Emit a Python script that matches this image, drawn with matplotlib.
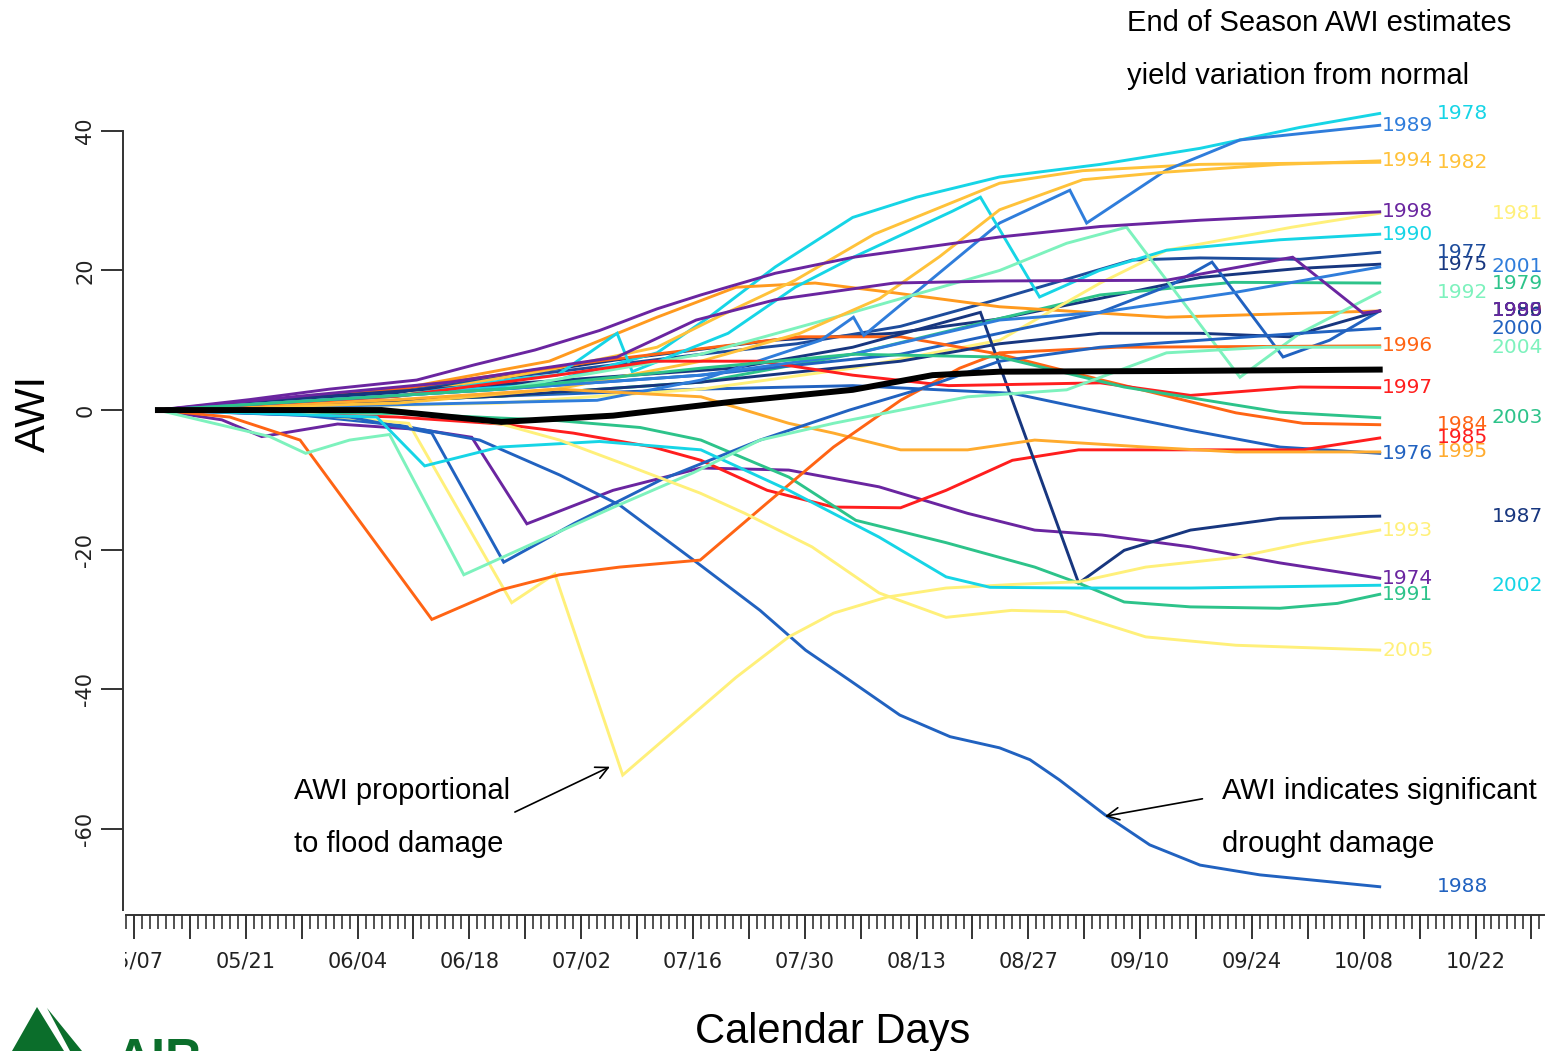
import matplotlib.pyplot as plt
from matplotlib.patches import Polygon
from matplotlib.transforms import Bbox, TransformedBbox

# x values are calendar days counted from 05/07, y values are accumulated AWI
tick_labels = ['05/07', '05/21', '06/04', '06/18', '07/02', '07/16', '07/30',
               '08/13', '08/27', '09/10', '09/24', '10/08', '10/22']
y_ticks = [-60, -40, -20, 0, 20, 40]

days_1974 = [3, 11, 16, 25.5, 36, 42.3, 49.2, 60, 71, 82, 93.3, 104.4, 112.8, 121.2, 132.3, 143.5, 156]
awi_1974 = [0, -1.4, -3.8, -2, -2.8, -3.9, -16.3, -11.5, -8.3, -8.6, -11, -14.8, -17.2, -17.9, -19.6, -21.9, -24.1]
days_1975 = [3, 33, 60.5, 80, 95, 108, 121, 133.5, 146, 156]
awi_1975 = [0, 2.5, 7.2, 10, 11, 13, 16, 19, 20.3, 20.9]
days_1976 = [3, 46, 71, 90, 110, 118.3, 132.3, 143.5, 156]
awi_1976 = [0, 2, 3, 3.5, 2.4, 0.4, -2.9, -5.3, -6.2]
days_1977 = [3, 33, 53, 71, 83, 96, 108, 125, 133.5, 146, 156]
awi_1977 = [0, 3, 5.5, 8, 9.5, 12, 15.8, 21.5, 21.8, 21.6, 22.6]
days_1978 = [3, 33, 52, 65.5, 72, 80.3, 90, 98, 108.4, 121, 133.5, 146, 156]
awi_1978 = [0, 2, 4, 8.2, 13.3, 20.5, 27.6, 30.5, 33.4, 35.2, 37.5, 40.5, 42.5]
days_1979 = [3, 46, 71, 90, 108, 121, 137.6, 156]
awi_1979 = [0, 2, 4, 8, 13, 16.5, 18.3, 18.2]
days_1980 = [3, 33, 52, 65.5, 75.4, 85.3, 95.2, 108.4, 129.3, 156]
awi_1980 = [0, 3, 7, 13.3, 17.6, 18.2, 16.8, 14.8, 13.3, 14.2]
days_1981 = [3, 46, 71, 90, 108.4, 121, 129.3, 145, 156]
awi_1981 = [0, 1, 3, 6, 10, 18.2, 22.9, 26.2, 28.2]
days_1982 = [3, 33, 53, 65.5, 73.4, 82.8, 92.7, 108.4, 118.8, 133.5, 156]
awi_1982 = [0, 2, 6, 9, 13.5, 18.6, 25.2, 32.5, 34.3, 35.2, 35.5]
days_1983 = [3, 46, 71, 96, 108.4, 121, 130, 135, 143.9, 149.7, 156]
awi_1983 = [0, 3, 5, 8, 11, 14, 18, 21.2, 7.6, 10, 14.2]
days_1984 = [3, 33, 58, 83.4, 96, 108.4, 121.2, 138, 146.4, 156]
awi_1984 = [0, 3, 7, 10.5, 10.5, 8, 4.3, -0.4, -1.9, -2.1]
days_1985 = [3, 33, 46, 55, 65, 71, 79.3, 87.6, 96, 101.7, 110, 118.3, 133, 146.4, 156]
awi_1985 = [0, -1, -2, -3.3, -5.3, -7.2, -11.5, -13.9, -14, -11.5, -7.2, -5.7, -5.7, -5.7, -4.0]
days_1986 = [3, 46, 71, 96, 108.4, 121, 133.5, 144.7, 156]
awi_1986 = [0, 2, 4, 7, 9.5, 11, 11, 10.5, 14.2]
days_1987 = [3, 24, 50, 75, 90, 106, 118.3, 124, 132.3, 143.5, 156]
awi_1987 = [0, 2, 4, 6, 9, 14, -24.8, -20.1, -17.2, -15.5, -15.2]
days_1988 = [3, 20.8, 33.3, 43.3, 53.3, 60.8, 70.9, 78.4, 84.1, 89.6, 95.9, 102.2, 108.4, 112.2,
             115.9, 121.6, 127.2, 133.5, 141, 156]
awi_1988 = [0, -0.7, -2.2, -4.3, -9.3, -13.6, -22.2, -28.7, -34.4, -38.7, -43.7, -46.8, -48.4, -50.1,
            -53, -58, -62.3, -65.2, -66.6, -68.3]
days_1989 = [3, 58, 71, 86, 90.1, 91.4, 108.4, 117.2, 119.3, 129.3, 138.5, 156]
awi_1989 = [0, 1.4, 4.3, 10, 13.3, 10.7, 26.8, 31.5, 26.8, 34.4, 38.7, 40.8]
days_1990 = [3, 33, 48, 53, 60.5, 62.4, 74.4, 82.8, 90.1, 102.5, 106, 113.4, 120.9, 129.3, 143.5, 156]
awi_1990 = [0, 2, 4.5, 5, 11, 5.5, 11, 17.6, 21.9, 28.5, 30.5, 16.2, 20, 22.9, 24.4, 25.2]
days_1991 = [3, 33, 53, 63.4, 71, 82, 90.4, 101.7, 112.8, 118.3, 124, 132.3, 143.5, 150.7, 156]
awi_1991 = [0, -0.5, -1.5, -2.5, -4.3, -9.6, -15.8, -19, -22.5, -24.8, -27.5, -28.2, -28.4, -27.7, -26.4]
days_1992 = [3, 46, 71, 90, 108.4, 116.8, 124.3, 138.5, 146, 156]
awi_1992 = [0, 3, 8, 14, 20, 23.9, 26.2, 4.7, 11, 16.9]
days_1993 = [3, 20.8, 34.4, 47.3, 52.7, 61.2, 75.4, 82, 87.6, 94.3, 101.7, 109.9, 118.3, 126.7, 138, 146.4, 156]
awi_1993 = [0, -0.5, -1.9, -27.6, -23.5, -52.3, -38.3, -32.5, -29.1, -26.8, -25.5, -25, -24.6, -22.5, -21.1,
            -19.1, -17.2]
days_1994 = [3, 33, 53, 71, 83.4, 93.4, 100.9, 108.4, 118.8, 129.3, 143.5, 156]
awi_1994 = [0, 1, 3, 7, 11, 16, 22, 28.7, 33, 34.1, 35.2, 35.7]
days_1995 = [3, 33, 53, 71, 82, 87.6, 96, 104.4, 112.8, 118.3, 126.7, 138, 156]
awi_1995 = [0, 1.5, 3, 1.9, -1.9, -3.3, -5.7, -5.7, -4.3, -4.7, -5.3, -6, -6]
days_1996 = [3, 12, 20.8, 37.3, 45.8, 53.3, 60.8, 70.9, 79.3, 87.6, 96, 103.4, 108.4, 123.1, 156]
awi_1996 = [0, -1, -4.3, -30, -25.8, -23.6, -22.5, -21.5, -13.3, -5.3, 1.4, 6, 8.2, 9, 9.2]
days_1997 = [3, 33, 53, 65, 78.4, 90, 102, 121, 132.3, 146, 156]
awi_1997 = [0, 2, 5, 7, 7, 5, 3.5, 3.9, 2.1, 3.3, 3.2]
days_1998 = [3, 14.5, 24.5, 35.4, 42.7, 50.2, 58.3, 65.5, 71, 80.3, 90.1, 108.4, 121, 133.5, 146, 156]
awi_1998 = [0, 1.5, 3, 4.3, 6.5, 8.6, 11.4, 14.5, 16.5, 19.6, 21.9, 24.8, 26.3, 27.2, 27.9, 28.4]
days_1999 = [3, 20.8, 39.6, 60.5, 70.4, 80.3, 95.2, 108.4, 129.3, 145.1, 153.9, 156]
awi_1999 = [0, 2, 4, 7.6, 12.9, 15.8, 18.2, 18.5, 18.6, 21.9, 13.9, 14.2]
days_2000 = [3, 27, 37.3, 46.3, 55.2, 66, 78.4, 89.6, 98.4, 108.4, 121, 133.5, 146, 156]
awi_2000 = [0, -1, -3.3, -21.8, -16.2, -10, -4.3, 0, 3, 7, 9, 10, 11, 11.7]
days_2001 = [3, 46, 71, 90, 108.4, 121, 137.6, 156]
awi_2001 = [0, 3, 5, 8, 12.9, 14, 16.8, 20.5]
days_2002 = [3, 30.4, 36.4, 45.8, 58.3, 71, 82, 93.3, 101.7, 107.2, 118.3, 132.3, 156]
awi_2002 = [0, -1, -8, -5.3, -4.5, -5.7, -11.5, -18.2, -23.9, -25.4, -25.5, -25.5, -25.1]
days_2003 = [3, 46, 71, 90, 108.4, 124, 143.5, 156]
awi_2003 = [0, 3, 6, 8, 7.6, 3.3, -0.3, -1.1]
days_2004 = [3, 17, 21.5, 27, 32, 41.3, 50.2, 60.1, 70, 78.4, 87.6, 104.4, 116.8, 129.3, 141.9, 156]
awi_2004 = [0, -3.8, -6.2, -4.3, -3.5, -23.6, -19, -13.9, -9, -4.3, -1.9, 1.9, 2.9, 8.2, 9, 9.0]
days_2005 = [3, 33, 46, 53.3, 60.8, 70.9, 76.5, 84.9, 93.3, 101.7, 109.9, 116.7, 126.7, 138, 156]
awi_2005 = [0, 0, -2, -4.3, -7.5, -11.9, -14.8, -19.6, -26.2, -29.7, -28.7, -28.9, -32.5, -33.7, -34.4]

# normal season
days_mean = [3, 31, 46, 60, 75, 90, 100, 108.4, 130, 156]
awi_mean = [0, 0, -1.7, -0.8, 1.2, 2.9, 5.0, 5.5, 5.6, 5.8]

series = {
    1974: (days_1974, awi_1974), 1975: (days_1975, awi_1975), 1976: (days_1976, awi_1976),
    1977: (days_1977, awi_1977), 1978: (days_1978, awi_1978), 1979: (days_1979, awi_1979),
    1980: (days_1980, awi_1980), 1981: (days_1981, awi_1981), 1982: (days_1982, awi_1982),
    1983: (days_1983, awi_1983), 1984: (days_1984, awi_1984), 1985: (days_1985, awi_1985),
    1986: (days_1986, awi_1986), 1987: (days_1987, awi_1987), 1988: (days_1988, awi_1988),
    1989: (days_1989, awi_1989), 1990: (days_1990, awi_1990), 1991: (days_1991, awi_1991),
    1992: (days_1992, awi_1992), 1993: (days_1993, awi_1993), 1994: (days_1994, awi_1994),
    1995: (days_1995, awi_1995), 1996: (days_1996, awi_1996), 1997: (days_1997, awi_1997),
    1998: (days_1998, awi_1998), 1999: (days_1999, awi_1999), 2000: (days_2000, awi_2000),
    2001: (days_2001, awi_2001), 2002: (days_2002, awi_2002), 2003: (days_2003, awi_2003),
    2004: (days_2004, awi_2004), 2005: (days_2005, awi_2005),
}

purple = '#6a25a0'
navy = '#17367f'
darkblue = '#1d4c9c'
blue = '#2162c0'
midblue = '#2f7ddb'
cyan = '#16d5e6'
seagreen = '#2dc38a'
aqua = '#7df2bd'
lightyellow = '#fff07a'
gold = '#ffc23a'
orange = '#ff9a1e'
redorange = '#ff6414'
red = '#ff1e1e'

colors = {
    1974: purple, 1975: navy, 1976: blue, 1977: darkblue, 1978: cyan, 1979: seagreen,
    1980: orange, 1981: lightyellow, 1982: gold, 1983: blue, 1984: redorange, 1985: red,
    1986: navy, 1987: navy, 1988: blue, 1989: midblue, 1990: cyan, 1991: seagreen,
    1992: aqua, 1993: lightyellow, 1994: gold, 1995: '#ffab2e', 1996: redorange, 1997: red,
    1998: purple, 1999: purple, 2000: blue, 2001: midblue, 2002: cyan, 2003: seagreen,
    2004: aqua, 2005: lightyellow,
}

# which column the year label goes in at the right end of the lines
label_col = {
    1989: 0, 1994: 0, 1998: 0, 1990: 0, 1996: 0, 1997: 0, 1976: 0, 1993: 0, 1974: 0, 1991: 0, 2005: 0,
    1978: 1, 1982: 1, 1977: 1, 1975: 1, 1992: 1, 1984: 1, 1985: 1, 1995: 1, 1988: 1,
    1981: 2, 2001: 2, 1979: 2, 1980: 2, 1983: 2, 1986: 2, 1999: 2, 2000: 2, 2004: 2, 2003: 2,
    1987: 2, 2002: 2,
}
col_x = [156.3, 163.1, 170.0]

W, H = 1545, 1051
fig = plt.figure(figsize=(W / 100, H / 100), dpi=100)
ax = fig.add_axes([126 / W, (H - 915) / H, (W - 126) / W, (915 - 96) / H])
ax.set_xlim(-1.0, 176.7)
ax.set_ylim(-72.35, 45.0)

for yr, (d, v) in series.items():
    ax.plot(d, v, color=colors[yr], lw=2.1, solid_joinstyle='miter', zorder=2)
    ax.text(col_x[label_col[yr]], v[-1], str(yr), color=colors[yr], fontsize=14.5,
            ha='left', va='center', family='DejaVu Sans', clip_on=False)

ax.plot(days_mean, awi_mean, color='black', lw=4.3, zorder=3)

# axes styled like base R
for s in ['top', 'right']:
    ax.spines[s].set_visible(False)
ax.spines['left'].set_position(('outward', 2))
ax.spines['left'].set_bounds(-71.6, 40)
for s in ['left', 'bottom']:
    ax.spines[s].set_linewidth(1.4)
    ax.spines[s].set_color('#333333')

major_days = list(range(0, 177, 7))
ax.set_xticks(major_days)
ax.set_xticklabels([tick_labels[i // 2] if i % 2 == 0 else '' for i in range(len(major_days))])
ax.set_xticks([d for d in range(-1, 177) if d % 7 != 0], minor=True)
ax.tick_params(axis='x', which='major', length=17, width=1.4, color='#333333', pad=9,
               labelsize=15, labelcolor='#222222')
ax.tick_params(axis='x', which='minor', length=10, width=1.2, color='#333333')

ax.set_yticks(y_ticks)
ax.set_yticklabels([str(t) for t in y_ticks])
ax.tick_params(axis='y', length=16, width=1.4, color='#333333', pad=4,
               labelsize=15, labelcolor='#222222', labelrotation=90)
for lbl in ax.get_yticklabels():
    lbl.set_va('center')

first = ax.get_xticklabels()[0]
first.set_clip_on(True)
first.set_clip_box(TransformedBbox(Bbox([[125 / W, 0], [1, 1]]), fig.transFigure))

sans = 'Liberation Sans'
fs = 21
ax.text(124.3, 55.4, 'End of Season AWI estimates', fontsize=fs, family=sans, va='center', clip_on=False)
ax.text(124.3, 47.8, 'yield variation from normal', fontsize=fs, family=sans, va='center', clip_on=False)
ax.text(20.0, -54.6, 'AWI proportional', fontsize=fs, family=sans, va='center')
ax.text(20.0, -62.2, 'to flood damage', fontsize=fs, family=sans, va='center')
ax.text(136.2, -54.6, 'AWI indicates significant', fontsize=fs, family=sans, va='center', clip_on=False)
ax.text(136.2, -62.2, 'drought damage', fontsize=fs, family=sans, va='center')

arrow = dict(arrowstyle='->', lw=1.2, color='black', mutation_scale=22, shrinkA=0, shrinkB=0)
ax.annotate('', xy=(59.6, -51.1), xytext=(47.7, -57.6), arrowprops=arrow)
ax.annotate('', xy=(121.6, -58.2), xytext=(133.8, -55.7), arrowprops=arrow)

fig.text(34 / W, 1 - 414 / H, 'AWI', rotation=90, fontsize=30, family=sans, ha='center', va='center')
fig.text(833 / W, 1 - 1043 / H, 'Calendar Days', fontsize=30, family=sans, ha='center', va='baseline')

# logo in the lower left corner, cut by the bottom edge
def fpx(x, y):
    return (x / W, 1 - y / H)

green = '#0b6e2b'
fig.patches.append(Polygon([fpx(37, 1007), fpx(12, 1051), fpx(64, 1051)], closed=True,
                           transform=fig.transFigure, facecolor=green, edgecolor='none'))
fig.patches.append(Polygon([fpx(47, 1008), fpx(82, 1051), fpx(70, 1051)], closed=True,
                           transform=fig.transFigure, facecolor=green, edgecolor='none'))
fig.text(116 / W, 1 - 1074 / H, 'AIR', fontsize=36, family=sans, weight='bold', color=green)

fig.savefig('out.png', dpi=100, facecolor='white')
